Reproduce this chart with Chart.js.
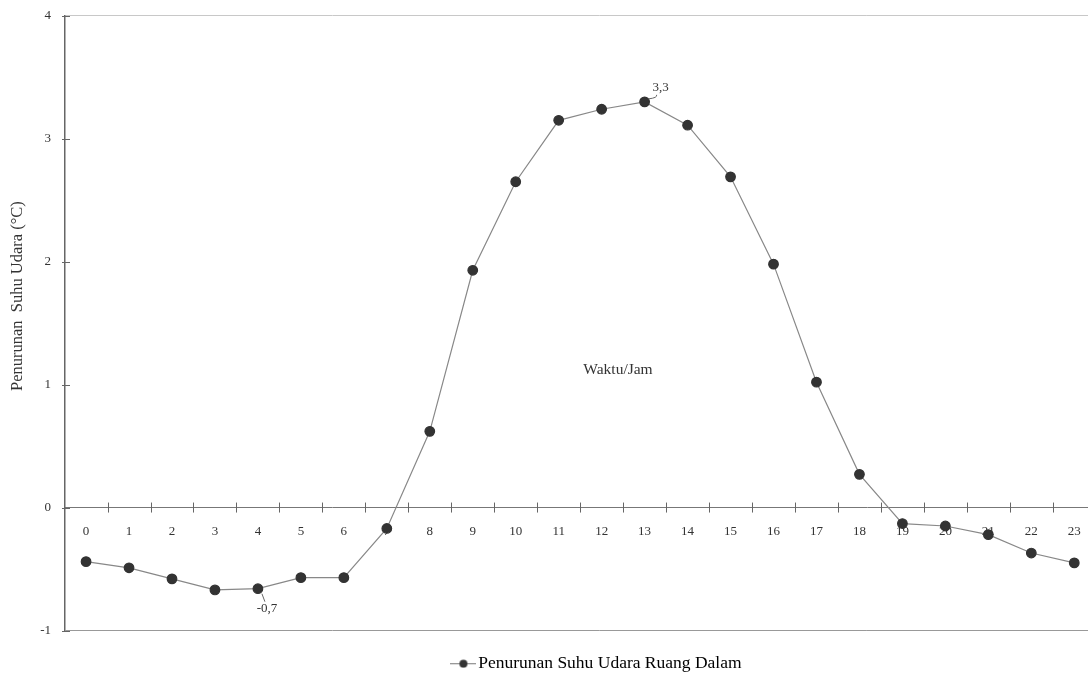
<!DOCTYPE html>
<html>
<head>
<meta charset="utf-8">
<script src="https://cdn.jsdelivr.net/npm/chart.js@4/dist/chart.umd.min.js"></script>
<style>
html, body { margin: 0; padding: 0; background: #fff; overflow: hidden; }
#suhuChart { display: block; margin-top: -6px; }
</style>
</head>
<body>
<canvas id="suhuChart" width="1140" height="688"></canvas>
<script>
// data
const jam = ['0','1','2','3','4','5','6','7','8','9','10','11','12','13','14','15','16','17','18','19','20','21','22','23'];
const penurunanSuhu = [-0.44, -0.49, -0.58, -0.67, -0.66, -0.57, -0.57, -0.17, 0.62, 1.93, 2.65, 3.15, 3.24, 3.30, 3.11, 2.69, 1.98, 1.02, 0.27, -0.13, -0.15, -0.22, -0.37, -0.45];
const yTicks = [-1, 0, 1, 2, 3, 4];
const labelNilai = [
    { index: 13, text: '3,3', dx: 16, dy: -14 },
    { index: 4, text: '-0,7', dx: 9, dy: 20 }
];
const judulY = 'Penurunan  Suhu Udara (\u00B0C)';
const judulX = 'Waktu/Jam';
const namaSeri = 'Penurunan Suhu Udara Ruang Dalam';

const FONT = "'Liberation Serif', 'Times New Roman', serif";

// legend marker: line with a dot
function legendMarker() {
    const c = document.createElement('canvas');
    c.width = 26; c.height = 10;
    const g = c.getContext('2d');
    g.strokeStyle = '#777';
    g.lineWidth = 1;
    g.beginPath(); g.moveTo(0, 5.5); g.lineTo(26, 5.5); g.stroke();
    g.fillStyle = '#333';
    g.beginPath(); g.arc(13, 5.5, 4, 0, Math.PI * 2); g.fill();
    return c;
}

// tick marks crossing the axes, value labels and axis titles
const hiasan = {
    id: 'hiasan',
    afterDraw(chart) {
        const ctx = chart.ctx;
        const x = chart.scales.x, y = chart.scales.y;
        const y0 = y.getPixelForValue(0);
        const xl = y.left + y.width;
        ctx.save();
        ctx.strokeStyle = '#666';
        ctx.lineWidth = 1;
        ctx.beginPath();
        for (let i = 0; i < jam.length; i++) {
            const px = Math.round(x.getPixelForValue(i + 0.5)) + 0.5;
            ctx.moveTo(px, y0 - 5); ctx.lineTo(px, y0 + 5);
        }
        yTicks.forEach(v => {
            const py = Math.round(y.getPixelForValue(v)) + 0.5;
            ctx.moveTo(xl - 3, py); ctx.lineTo(xl + 5, py);
        });
        ctx.stroke();

        const meta = chart.getDatasetMeta(0);
        ctx.fillStyle = '#333';
        ctx.font = '13px ' + FONT;
        ctx.textAlign = 'center';
        ctx.textBaseline = 'middle';
        labelNilai.forEach(l => {
            const p = meta.data[l.index];
            const tx = p.x + l.dx, ty = p.y + l.dy;
            ctx.fillText(l.text, tx, ty);
            ctx.strokeStyle = '#666';
            ctx.beginPath();
            if (l.dy < 0) {
                ctx.moveTo(p.x + 4, p.y - 3);
                ctx.quadraticCurveTo(tx - 3, p.y - 4, tx - 4, ty + 7);
            } else {
                ctx.moveTo(p.x + 4, p.y + 5);
                ctx.lineTo(tx - 2, ty - 7);
            }
            ctx.stroke();
        });

        ctx.font = '15.5px ' + FONT;
        ctx.fillText(judulX, x.getPixelForValue(12.38), y.getPixelForValue(1.12));

        ctx.font = '16.5px ' + FONT;
        ctx.translate(18, y.getPixelForValue(1.72));
        ctx.rotate(-Math.PI / 2);
        ctx.fillText(judulY, 0, 0);
        ctx.restore();
    }
};

const ctx = document.getElementById('suhuChart').getContext('2d');
const suhuChart = new Chart(ctx, {
    type: 'line',
    data: {
        labels: jam,
        datasets: [{
            label: namaSeri,
            data: penurunanSuhu,
            borderColor: '#888',
            borderWidth: 1.2,
            backgroundColor: '#333',
            pointBackgroundColor: '#333',
            pointBorderColor: '#333',
            pointRadius: 4.8,
            pointStyle: 'circle',
            fill: false,
            tension: 0
        }]
    },
    options: {
        responsive: false,
        animation: false,
        layout: { padding: { top: 9, right: 0, bottom: 0, left: 0 } },
        scales: {
            x: {
                type: 'linear',
                min: -0.49,
                max: 24.39,
                position: { y: 0 },
                afterBuildTicks: scale => { scale.ticks = jam.map(v => ({ value: +v })); },
                grid: { display: false },
                border: { display: true, color: '#777', width: 1 },
                ticks: {
                    autoSkip: false,
                    maxRotation: 0,
                    padding: 8,
                    color: '#333',
                    font: { family: FONT, size: 13 }
                }
            },
            y: {
                min: -1,
                max: 4,
                afterBuildTicks: scale => { scale.ticks = yTicks.map(v => ({ value: v })); },
                afterFit: scale => { scale.width = 65; },
                grid: {
                    drawTicks: false,
                    color: c => c.tick.value === 4 ? '#c8c8c8' : (c.tick.value === -1 ? '#999' : 'rgba(0,0,0,0)')
                },
                border: { display: true, color: '#666', width: 1.5 },
                ticks: {
                    padding: 14,
                    color: '#333',
                    font: { family: FONT, size: 13 }
                }
            }
        },
        plugins: {
            legend: {
                position: 'bottom',
                fullSize: false,
                labels: {
                    usePointStyle: true,
                    pointStyleWidth: 12,
                    color: '#333',
                    padding: 24,
                    font: { family: FONT, size: 17.5 },
                    generateLabels: chart => [{
                        text: namaSeri,
                        pointStyle: legendMarker(),
                        fillStyle: '#333',
                        strokeStyle: '#333',
                        lineWidth: 0,
                        datasetIndex: 0
                    }]
                }
            },
            tooltip: { enabled: false }
        }
    },
    plugins: [hiasan]
});
</script>
</body>
</html>
